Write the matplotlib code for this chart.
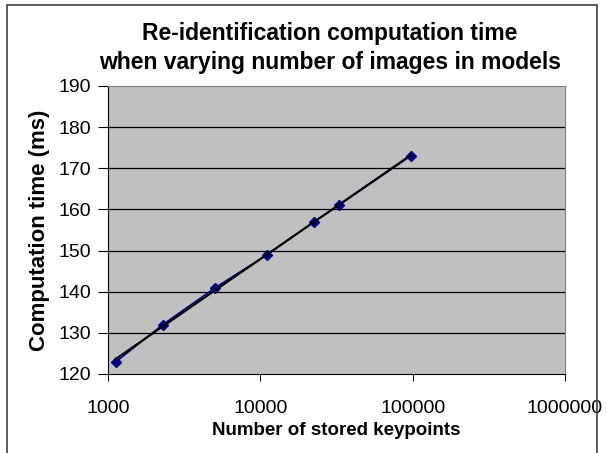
import numpy as np
import matplotlib
matplotlib.use("Agg")
import matplotlib.pyplot as plt
from matplotlib.ticker import FixedLocator, FixedFormatter, NullLocator

plt.rcParams['font.family'] = ['Liberation Sans', 'DejaVu Sans']

# Data
keypoints = [1130, 2290, 5070, 11100, 22500, 32700, 97000]
comp_time = [123, 132, 141, 149, 157, 161, 173]

xticks = [1000, 10000, 100000, 1000000]
xtick_labels = ['1000', '10000', '100000', '1000000']
yticks = [120, 130, 140, 150, 160, 170, 180, 190]

fig = plt.figure(figsize=(6.07, 4.53), dpi=100)
ax = fig.add_axes([108 / 607, 1 - 374 / 453, (565 - 108) / 607, (374 - 86) / 453])
ax.set_facecolor('#C0C0C0')

# horizontal gridlines
for y in yticks[1:-1]:
    ax.axhline(y, color='black', linewidth=0.9, zorder=1)

ax.plot(keypoints, comp_time, color='#000080', marker='D', markersize=5,
        linewidth=1.2, zorder=3)

# logarithmic trend line
b, a = np.polyfit(np.log10(keypoints), comp_time, 1)
xs = np.array([keypoints[0], keypoints[-1]])
ax.plot(xs, a + b * np.log10(xs), color='black', linewidth=1.5, zorder=4)

ax.set_xscale('log')
ax.set_xlim(1000, 1000000)
ax.set_ylim(120, 190)
ax.xaxis.set_major_locator(FixedLocator(xticks))
ax.xaxis.set_major_formatter(FixedFormatter(xtick_labels))
ax.xaxis.set_minor_locator(NullLocator())
ax.set_yticks(yticks)

for side in ['top', 'right']:
    ax.spines[side].set_color('#808080')
for side in ['left', 'bottom']:
    ax.spines[side].set_color('black')
ax.tick_params(axis='both', direction='out', labelsize=14)
ax.tick_params(axis='y', length=7, pad=5)
ax.tick_params(axis='x', length=5, pad=14)

ax.set_xlabel('Number of stored keypoints', fontsize=13.5, fontweight='bold', labelpad=3)
ax.set_ylabel('Computation time (ms)', fontsize=16, fontweight='bold', labelpad=6)
fig.text(330 / 607, 1 - 48 / 453, 'Re-identification computation time\nwhen varying number of images in models',
         ha='center', va='center', fontsize=16.5, fontweight='bold', linespacing=1.35)

# chart frame
frame = plt.Rectangle((7 / 607, -0.05), (597 - 7) / 607, 1 - 5 / 453 + 0.05,
                      transform=fig.transFigure, fill=False, edgecolor='#404040',
                      linewidth=1.2)
fig.patches.append(frame)

fig.savefig('out.png', dpi=100)
